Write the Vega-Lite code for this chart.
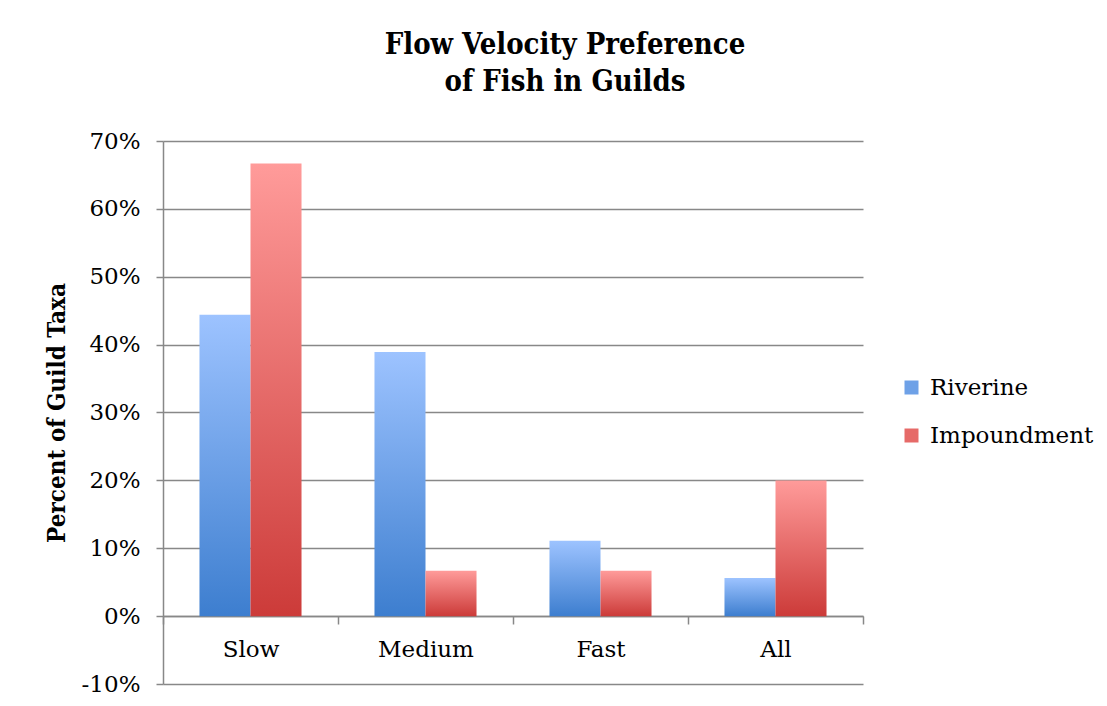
{
  "$schema": "https://vega.github.io/schema/vega-lite/v6.json",
  "width": 700,
  "height": 543,
  "autosize": {"type": "none"},
  "padding": {"left": 163, "top": 141, "right": 244, "bottom": 22},
  "background": "white",
  "title": {
    "text": ["Flow Velocity Preference", "of Fish in Guilds"],
    "font": "DejaVu Serif Condensed, Liberation Serif",
    "fontSize": 29,
    "fontWeight": "bold",
    "lineHeight": 37,
    "color": "black",
    "anchor": "middle",
    "frame": "group",
    "dx": 52,
    "offset": 33
  },
  "data": {
    "values": [
      {"flow": "Slow", "type": "Riverine", "pct": 0.444},
      {"flow": "Slow", "type": "Impoundment", "pct": 0.667},
      {"flow": "Medium", "type": "Riverine", "pct": 0.389},
      {"flow": "Medium", "type": "Impoundment", "pct": 0.067},
      {"flow": "Fast", "type": "Riverine", "pct": 0.111},
      {"flow": "Fast", "type": "Impoundment", "pct": 0.067},
      {"flow": "All", "type": "Riverine", "pct": 0.056},
      {"flow": "All", "type": "Impoundment", "pct": 0.2}
    ]
  },
  "mark": {"type": "bar", "strokeWidth": 0},
  "encoding": {
    "x": {
      "field": "flow",
      "type": "nominal",
      "sort": ["Slow", "Medium", "Fast", "All"],
      "scale": {"paddingInner": 0, "paddingOuter": 0},
      "axis": {
        "title": null,
        "orient": "bottom",
        "offset": -68,
        "labelAngle": 0,
        "labelFont": "DejaVu Serif",
        "labelFontSize": 23,
        "labelColor": "black",
        "labelPadding": 14,
        "tickBand": "extent",
        "tickSize": 8,
        "tickColor": "#888888",
        "tickWidth": 1.5,
        "domainColor": "#888888",
        "domainWidth": 1.5,
        "grid": false
      }
    },
    "xOffset": {
      "field": "type",
      "type": "nominal",
      "sort": ["Riverine", "Impoundment"],
      "scale": {"paddingInner": 0, "paddingOuter": 0.715}
    },
    "y": {
      "field": "pct",
      "type": "quantitative",
      "scale": {"domain": [-0.1, 0.7], "nice": false, "zero": false},
      "axis": {
        "title": "Percent of Guild Taxa",
        "titleFont": "DejaVu Serif Condensed, Liberation Serif",
        "titleFontSize": 24,
        "titleFontWeight": "bold",
        "titleColor": "black",
        "titlePadding": 12,
        "values": [-0.1, 0, 0.1, 0.2, 0.3, 0.4, 0.5, 0.6, 0.7],
        "labelExpr": "round(datum.value*100) + '%'",
        "labelFont": "DejaVu Serif",
        "labelFontSize": 23,
        "labelColor": "black",
        "labelPadding": 16,
        "tickSize": 7,
        "tickColor": "#888888",
        "tickWidth": 1.5,
        "domainColor": "#888888",
        "domainWidth": 1.5,
        "grid": true,
        "gridColor": "#888888",
        "gridWidth": 1.5
      }
    },
    "stroke": {
      "field": "type",
      "type": "nominal",
      "sort": ["Riverine", "Impoundment"],
      "scale": {
        "domain": ["Riverine", "Impoundment"],
        "range": ["#6ea1e7", "#e66a68"]
      },
      "legend": {
        "title": null,
        "orient": "none",
        "legendX": 737,
        "legendY": 235,
        "symbolType": "square",
        "symbolSize": 49,
        "symbolStrokeWidth": 7,
        "symbolOpacity": 1,
        "labelFont": "DejaVu Serif",
        "labelFontSize": 23,
        "labelColor": "black",
        "labelLimit": 300,
        "rowPadding": 13,
        "labelOffset": 7
      }
    },
    "fill": {
      "condition": {
        "test": "datum.type === 'Riverine'",
        "value": {"gradient": "linear", "x1": 0, "y1": 1, "x2": 0, "y2": 0, "stops": [{"offset": 0, "color": "#3d7ecf"}, {"offset": 1, "color": "#9dc3ff"}]}
      },
      "value": {"gradient": "linear", "x1": 0, "y1": 1, "x2": 0, "y2": 0, "stops": [{"offset": 0, "color": "#cc3b39"}, {"offset": 1, "color": "#ff9b9a"}]}
    }
  },
  "config": {
    "view": {"stroke": null}
  }
}
